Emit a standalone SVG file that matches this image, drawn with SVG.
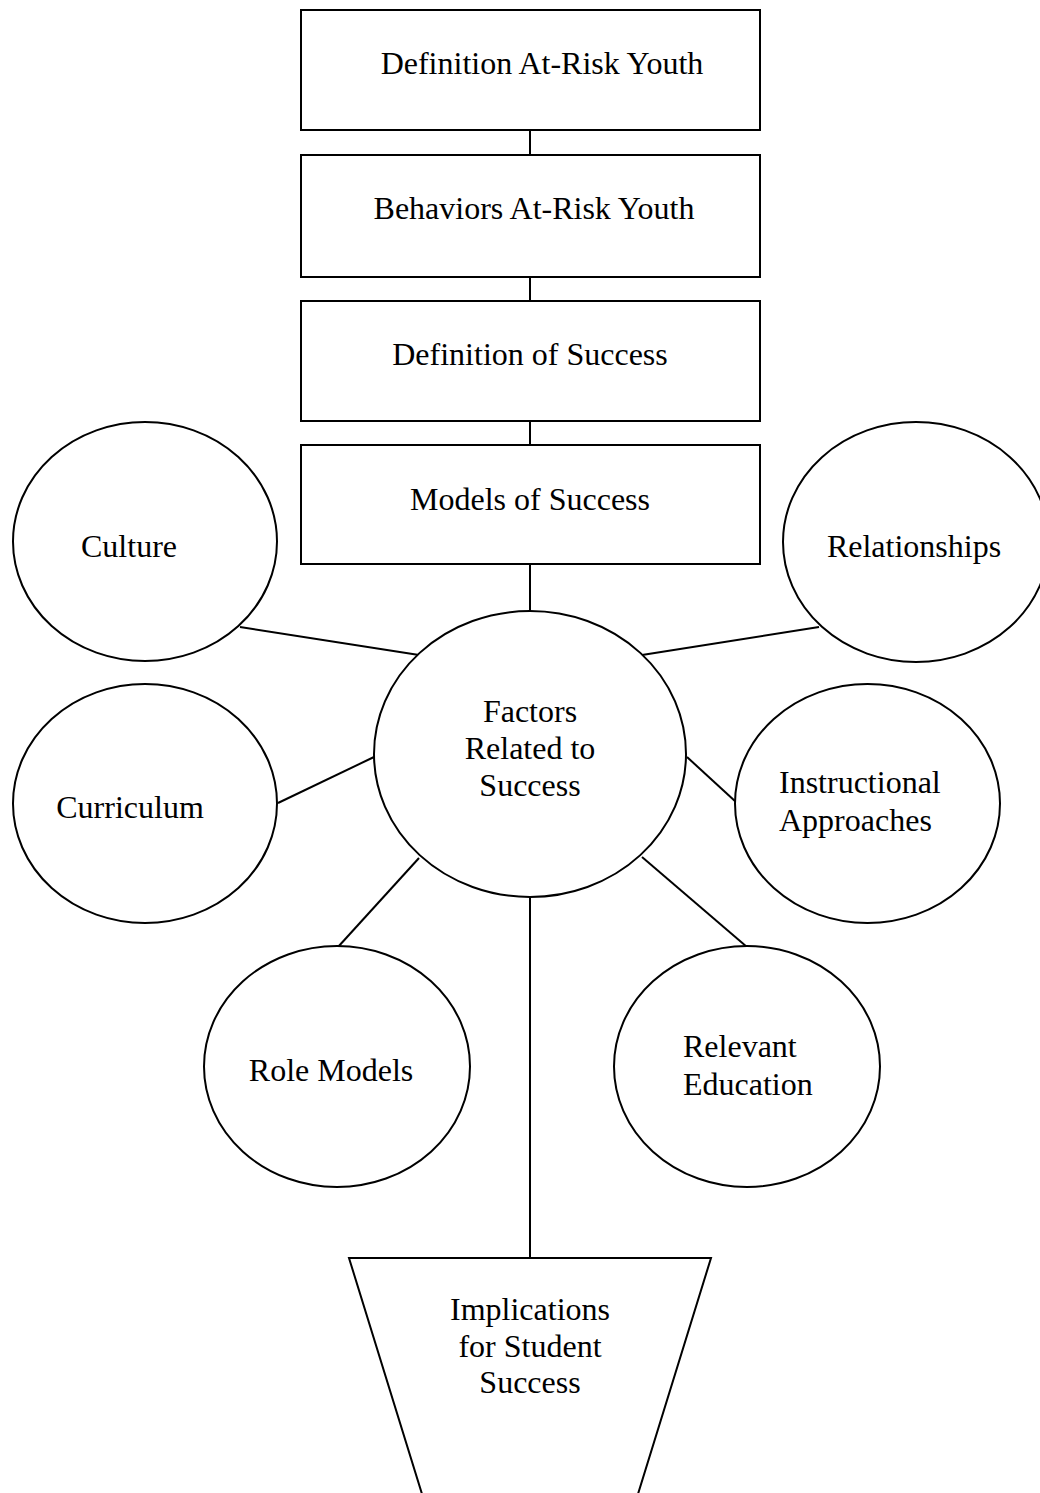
<svg xmlns="http://www.w3.org/2000/svg" width="1040" height="1493" viewBox="0 0 1040 1493">
<style>
.shape{fill:#fff;stroke:#000;stroke-width:2}
.conn line{stroke:#000;stroke-width:2}
text{font-family:"Liberation Serif","Times New Roman",serif;font-size:32px;fill:#000}
.c{text-anchor:middle}
</style>
<rect x="0" y="0" width="1040" height="1493" fill="#fff"/>
<g id="connectors" class="conn">
<line x1="530" y1="130" x2="530" y2="155"/>
<line x1="530" y1="277" x2="530" y2="301"/>
<line x1="530" y1="421" x2="530" y2="445"/>
<line x1="530" y1="564" x2="530" y2="612"/>
<line x1="240" y1="627" x2="419" y2="655"/>
<line x1="819" y1="627" x2="642" y2="655"/>
<line x1="278" y1="803" x2="374" y2="757"/>
<line x1="687" y1="757" x2="736" y2="802"/>
<line x1="419" y1="858" x2="338" y2="947"/>
<line x1="642" y1="857" x2="747" y2="947"/>
<line x1="530" y1="897" x2="530" y2="1258"/>
</g>
<g id="n-definition-at-risk">
<rect class="shape" x="301" y="10" width="459" height="120"/>
<text x="542" y="74" class="c">Definition At-Risk Youth</text>
</g>
<g id="n-behaviors">
<rect class="shape" x="301" y="155" width="459" height="122"/>
<text x="534" y="219" class="c">Behaviors At-Risk Youth</text>
</g>
<g id="n-definition-success">
<rect class="shape" x="301" y="301" width="459" height="120"/>
<text x="530" y="365" class="c">Definition of Success</text>
</g>
<g id="n-models">
<rect class="shape" x="301" y="445" width="459" height="119"/>
<text x="530" y="510" class="c">Models of Success</text>
</g>
<g id="n-culture">
<ellipse class="shape" cx="145" cy="541.5" rx="132" ry="119.5"/>
<text x="129" y="557" class="c">Culture</text>
</g>
<g id="n-relationships">
<ellipse class="shape" cx="916" cy="542" rx="133" ry="120"/>
<text x="914" y="557" class="c">Relationships</text>
</g>
<g id="n-factors">
<ellipse class="shape" cx="530" cy="754" rx="156" ry="143"/>
<text x="530" y="722" class="c">Factors</text>
<text x="530" y="759" class="c">Related to</text>
<text x="530" y="796" class="c">Success</text>
</g>
<g id="n-curriculum">
<ellipse class="shape" cx="145" cy="803.5" rx="132" ry="119.5"/>
<text x="130" y="818" class="c">Curriculum</text>
</g>
<g id="n-instructional">
<ellipse class="shape" cx="867.5" cy="803.5" rx="132.5" ry="119.5"/>
<text x="779" y="793">Instructional</text>
<text x="779" y="831">Approaches</text>
</g>
<g id="n-role-models">
<ellipse class="shape" cx="337" cy="1066.5" rx="133" ry="120.5"/>
<text x="331" y="1081" class="c">Role Models</text>
</g>
<g id="n-relevant">
<ellipse class="shape" cx="747" cy="1066.5" rx="133" ry="120.5"/>
<text x="683" y="1057">Relevant</text>
<text x="683" y="1095">Education</text>
</g>
<g id="n-implications">
<polygon class="shape" points="349,1258 711,1258 638,1494 422,1494"/>
<text x="530" y="1320" class="c">Implications</text>
<text x="530" y="1357" class="c">for Student</text>
<text x="530" y="1393" class="c">Success</text>
</g>
</svg>
